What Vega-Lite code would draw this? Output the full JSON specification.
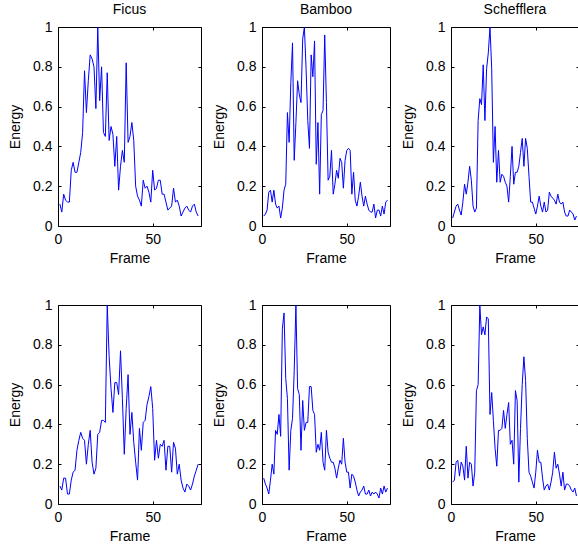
{
"$schema":"https://vega.github.io/schema/vega-lite/v6.json",
"padding":{"left":8,"top":2,"right":0,"bottom":0},
"background":"white",
"datasets":{
"p1":[{"frame":1,"energy":0.11},{"frame":2,"energy":0.07},{"frame":3,"energy":0.16},{"frame":4,"energy":0.13},{"frame":5,"energy":0.12},{"frame":6,"energy":0.12},{"frame":7,"energy":0.28},{"frame":8,"energy":0.32},{"frame":9,"energy":0.27},{"frame":10,"energy":0.27},{"frame":11,"energy":0.32},{"frame":12,"energy":0.37},{"frame":13,"energy":0.47},{"frame":14,"energy":0.78},{"frame":15,"energy":0.57},{"frame":16,"energy":0.73},{"frame":17,"energy":0.86},{"frame":18,"energy":0.84},{"frame":19,"energy":0.8},{"frame":20,"energy":0.59},{"frame":21,"energy":1.0},{"frame":22,"energy":0.63},{"frame":23,"energy":0.8},{"frame":24,"energy":0.47},{"frame":25,"energy":0.45},{"frame":26,"energy":0.77},{"frame":27,"energy":0.43},{"frame":28,"energy":0.5},{"frame":29,"energy":0.46},{"frame":30,"energy":0.3},{"frame":31,"energy":0.45},{"frame":32,"energy":0.18},{"frame":33,"energy":0.3},{"frame":34,"energy":0.38},{"frame":35,"energy":0.32},{"frame":36,"energy":0.82},{"frame":37,"energy":0.42},{"frame":38,"energy":0.45},{"frame":39,"energy":0.52},{"frame":40,"energy":0.43},{"frame":41,"energy":0.2},{"frame":42,"energy":0.15},{"frame":43,"energy":0.13},{"frame":44,"energy":0.1},{"frame":45,"energy":0.23},{"frame":46,"energy":0.19},{"frame":47,"energy":0.2},{"frame":48,"energy":0.17},{"frame":49,"energy":0.12},{"frame":50,"energy":0.28},{"frame":51,"energy":0.18},{"frame":52,"energy":0.19},{"frame":53,"energy":0.23},{"frame":54,"energy":0.23},{"frame":55,"energy":0.16},{"frame":56,"energy":0.16},{"frame":57,"energy":0.12},{"frame":58,"energy":0.08},{"frame":59,"energy":0.09},{"frame":60,"energy":0.1},{"frame":61,"energy":0.19},{"frame":62,"energy":0.12},{"frame":63,"energy":0.13},{"frame":64,"energy":0.1},{"frame":65,"energy":0.05},{"frame":66,"energy":0.07},{"frame":67,"energy":0.09},{"frame":68,"energy":0.1},{"frame":69,"energy":0.08},{"frame":70,"energy":0.07},{"frame":71,"energy":0.1},{"frame":72,"energy":0.11},{"frame":73,"energy":0.07},{"frame":74,"energy":0.05}],
"p2":[{"frame":1,"energy":0.05},{"frame":2,"energy":0.06},{"frame":3,"energy":0.08},{"frame":4,"energy":0.17},{"frame":5,"energy":0.18},{"frame":6,"energy":0.12},{"frame":7,"energy":0.18},{"frame":8,"energy":0.11},{"frame":9,"energy":0.09},{"frame":10,"energy":0.1},{"frame":11,"energy":0.04},{"frame":12,"energy":0.09},{"frame":13,"energy":0.18},{"frame":14,"energy":0.21},{"frame":15,"energy":0.57},{"frame":16,"energy":0.42},{"frame":17,"energy":0.72},{"frame":18,"energy":0.92},{"frame":19,"energy":0.33},{"frame":20,"energy":0.52},{"frame":21,"energy":0.73},{"frame":22,"energy":0.66},{"frame":23,"energy":0.62},{"frame":24,"energy":0.94},{"frame":25,"energy":1.0},{"frame":26,"energy":0.79},{"frame":27,"energy":0.53},{"frame":28,"energy":0.39},{"frame":29,"energy":0.86},{"frame":30,"energy":0.75},{"frame":31,"energy":0.93},{"frame":32,"energy":0.31},{"frame":33,"energy":0.52},{"frame":34,"energy":0.16},{"frame":35,"energy":0.56},{"frame":36,"energy":0.58},{"frame":37,"energy":0.96},{"frame":38,"energy":0.62},{"frame":39,"energy":0.23},{"frame":40,"energy":0.25},{"frame":41,"energy":0.38},{"frame":42,"energy":0.16},{"frame":43,"energy":0.21},{"frame":44,"energy":0.28},{"frame":45,"energy":0.24},{"frame":46,"energy":0.34},{"frame":47,"energy":0.32},{"frame":48,"energy":0.19},{"frame":49,"energy":0.33},{"frame":50,"energy":0.38},{"frame":51,"energy":0.39},{"frame":52,"energy":0.38},{"frame":53,"energy":0.16},{"frame":54,"energy":0.27},{"frame":55,"energy":0.13},{"frame":56,"energy":0.1},{"frame":57,"energy":0.15},{"frame":58,"energy":0.22},{"frame":59,"energy":0.15},{"frame":60,"energy":0.1},{"frame":61,"energy":0.15},{"frame":62,"energy":0.11},{"frame":63,"energy":0.08},{"frame":64,"energy":0.07},{"frame":65,"energy":0.07},{"frame":66,"energy":0.11},{"frame":67,"energy":0.04},{"frame":68,"energy":0.08},{"frame":69,"energy":0.08},{"frame":70,"energy":0.05},{"frame":71,"energy":0.1},{"frame":72,"energy":0.06},{"frame":73,"energy":0.12},{"frame":74,"energy":0.13}],
"p3":[{"frame":1,"energy":0.04},{"frame":2,"energy":0.07},{"frame":3,"energy":0.1},{"frame":4,"energy":0.11},{"frame":5,"energy":0.08},{"frame":6,"energy":0.055},{"frame":7,"energy":0.12},{"frame":8,"energy":0.21},{"frame":9,"energy":0.16},{"frame":10,"energy":0.22},{"frame":11,"energy":0.3},{"frame":12,"energy":0.23},{"frame":13,"energy":0.1},{"frame":14,"energy":0.07},{"frame":15,"energy":0.09},{"frame":16,"energy":0.53},{"frame":17,"energy":0.64},{"frame":18,"energy":0.61},{"frame":19,"energy":0.81},{"frame":20,"energy":0.53},{"frame":21,"energy":0.79},{"frame":22,"energy":0.87},{"frame":23,"energy":1.0},{"frame":24,"energy":0.79},{"frame":25,"energy":0.32},{"frame":26,"energy":0.5},{"frame":27,"energy":0.22},{"frame":28,"energy":0.38},{"frame":29,"energy":0.22},{"frame":30,"energy":0.26},{"frame":31,"energy":0.25},{"frame":32,"energy":0.22},{"frame":33,"energy":0.2},{"frame":34,"energy":0.12},{"frame":35,"energy":0.25},{"frame":36,"energy":0.4},{"frame":37,"energy":0.21},{"frame":38,"energy":0.27},{"frame":39,"energy":0.27},{"frame":40,"energy":0.3},{"frame":41,"energy":0.37},{"frame":42,"energy":0.44},{"frame":43,"energy":0.3},{"frame":44,"energy":0.44},{"frame":45,"energy":0.39},{"frame":46,"energy":0.25},{"frame":47,"energy":0.12},{"frame":48,"energy":0.12},{"frame":49,"energy":0.09},{"frame":50,"energy":0.06},{"frame":51,"energy":0.1},{"frame":52,"energy":0.15},{"frame":53,"energy":0.1},{"frame":54,"energy":0.07},{"frame":55,"energy":0.12},{"frame":56,"energy":0.07},{"frame":57,"energy":0.08},{"frame":58,"energy":0.17},{"frame":59,"energy":0.15},{"frame":60,"energy":0.14},{"frame":61,"energy":0.13},{"frame":62,"energy":0.11},{"frame":63,"energy":0.16},{"frame":64,"energy":0.12},{"frame":65,"energy":0.11},{"frame":66,"energy":0.12},{"frame":67,"energy":0.07},{"frame":68,"energy":0.05},{"frame":69,"energy":0.05},{"frame":70,"energy":0.08},{"frame":71,"energy":0.07},{"frame":72,"energy":0.06},{"frame":73,"energy":0.03},{"frame":74,"energy":0.05}],
"p4":[{"frame":1,"energy":0.09},{"frame":2,"energy":0.07},{"frame":3,"energy":0.13},{"frame":4,"energy":0.13},{"frame":5,"energy":0.05},{"frame":6,"energy":0.05},{"frame":7,"energy":0.12},{"frame":8,"energy":0.16},{"frame":9,"energy":0.17},{"frame":10,"energy":0.27},{"frame":11,"energy":0.32},{"frame":12,"energy":0.36},{"frame":13,"energy":0.33},{"frame":14,"energy":0.32},{"frame":15,"energy":0.2},{"frame":16,"energy":0.3},{"frame":17,"energy":0.37},{"frame":18,"energy":0.21},{"frame":19,"energy":0.15},{"frame":20,"energy":0.18},{"frame":21,"energy":0.35},{"frame":22,"energy":0.36},{"frame":23,"energy":0.42},{"frame":24,"energy":0.42},{"frame":25,"energy":0.41},{"frame":26,"energy":1.0},{"frame":27,"energy":0.74},{"frame":28,"energy":0.58},{"frame":29,"energy":0.46},{"frame":30,"energy":0.61},{"frame":31,"energy":0.61},{"frame":32,"energy":0.55},{"frame":33,"energy":0.77},{"frame":34,"energy":0.53},{"frame":35,"energy":0.25},{"frame":36,"energy":0.48},{"frame":37,"energy":0.65},{"frame":38,"energy":0.35},{"frame":39,"energy":0.46},{"frame":40,"energy":0.31},{"frame":41,"energy":0.21},{"frame":42,"energy":0.12},{"frame":43,"energy":0.38},{"frame":44,"energy":0.27},{"frame":45,"energy":0.41},{"frame":46,"energy":0.42},{"frame":47,"energy":0.5},{"frame":48,"energy":0.54},{"frame":49,"energy":0.59},{"frame":50,"energy":0.48},{"frame":51,"energy":0.22},{"frame":52,"energy":0.32},{"frame":53,"energy":0.23},{"frame":54,"energy":0.3},{"frame":55,"energy":0.29},{"frame":56,"energy":0.32},{"frame":57,"energy":0.17},{"frame":58,"energy":0.29},{"frame":59,"energy":0.29},{"frame":60,"energy":0.16},{"frame":61,"energy":0.31},{"frame":62,"energy":0.28},{"frame":63,"energy":0.15},{"frame":64,"energy":0.2},{"frame":65,"energy":0.12},{"frame":66,"energy":0.08},{"frame":67,"energy":0.06},{"frame":68,"energy":0.1},{"frame":69,"energy":0.09},{"frame":70,"energy":0.07},{"frame":71,"energy":0.1},{"frame":72,"energy":0.14},{"frame":73,"energy":0.17},{"frame":74,"energy":0.2}],
"p5":[{"frame":1,"energy":0.13},{"frame":2,"energy":0.1},{"frame":3,"energy":0.08},{"frame":4,"energy":0.05},{"frame":5,"energy":0.12},{"frame":6,"energy":0.2},{"frame":7,"energy":0.15},{"frame":8,"energy":0.37},{"frame":9,"energy":0.35},{"frame":10,"energy":0.45},{"frame":11,"energy":0.34},{"frame":12,"energy":0.88},{"frame":13,"energy":0.96},{"frame":14,"energy":0.63},{"frame":15,"energy":0.53},{"frame":16,"energy":0.17},{"frame":17,"energy":0.37},{"frame":18,"energy":0.43},{"frame":19,"energy":0.67},{"frame":20,"energy":1.0},{"frame":21,"energy":0.58},{"frame":22,"energy":0.55},{"frame":23,"energy":0.27},{"frame":24,"energy":0.52},{"frame":25,"energy":0.37},{"frame":26,"energy":0.41},{"frame":27,"energy":0.41},{"frame":28,"energy":0.59},{"frame":29,"energy":0.59},{"frame":30,"energy":0.47},{"frame":31,"energy":0.45},{"frame":32,"energy":0.26},{"frame":33,"energy":0.3},{"frame":34,"energy":0.27},{"frame":35,"energy":0.36},{"frame":36,"energy":0.21},{"frame":37,"energy":0.17},{"frame":38,"energy":0.37},{"frame":39,"energy":0.26},{"frame":40,"energy":0.23},{"frame":41,"energy":0.21},{"frame":42,"energy":0.21},{"frame":43,"energy":0.18},{"frame":44,"energy":0.13},{"frame":45,"energy":0.18},{"frame":46,"energy":0.22},{"frame":47,"energy":0.2},{"frame":48,"energy":0.33},{"frame":49,"energy":0.21},{"frame":50,"energy":0.16},{"frame":51,"energy":0.16},{"frame":52,"energy":0.08},{"frame":53,"energy":0.15},{"frame":54,"energy":0.14},{"frame":55,"energy":0.11},{"frame":56,"energy":0.07},{"frame":57,"energy":0.04},{"frame":58,"energy":0.06},{"frame":59,"energy":0.07},{"frame":60,"energy":0.09},{"frame":61,"energy":0.05},{"frame":62,"energy":0.05},{"frame":63,"energy":0.07},{"frame":64,"energy":0.04},{"frame":65,"energy":0.06},{"frame":66,"energy":0.05},{"frame":67,"energy":0.06},{"frame":68,"energy":0.05},{"frame":69,"energy":0.03},{"frame":70,"energy":0.08},{"frame":71,"energy":0.05},{"frame":72,"energy":0.09},{"frame":73,"energy":0.06},{"frame":74,"energy":0.08}],
"p6":[{"frame":1,"energy":0.11},{"frame":2,"energy":0.12},{"frame":3,"energy":0.21},{"frame":4,"energy":0.22},{"frame":5,"energy":0.14},{"frame":6,"energy":0.21},{"frame":7,"energy":0.19},{"frame":8,"energy":0.12},{"frame":9,"energy":0.29},{"frame":10,"energy":0.13},{"frame":11,"energy":0.21},{"frame":12,"energy":0.2},{"frame":13,"energy":0.09},{"frame":14,"energy":0.16},{"frame":15,"energy":0.57},{"frame":16,"energy":0.6},{"frame":17,"energy":1.0},{"frame":18,"energy":0.85},{"frame":19,"energy":0.89},{"frame":20,"energy":0.85},{"frame":21,"energy":0.94},{"frame":22,"energy":0.93},{"frame":23,"energy":0.45},{"frame":24,"energy":0.56},{"frame":25,"energy":0.42},{"frame":26,"energy":0.28},{"frame":27,"energy":0.19},{"frame":28,"energy":0.37},{"frame":29,"energy":0.37},{"frame":30,"energy":0.38},{"frame":31,"energy":0.47},{"frame":32,"energy":0.38},{"frame":33,"energy":0.45},{"frame":34,"energy":0.51},{"frame":35,"energy":0.3},{"frame":36,"energy":0.32},{"frame":37,"energy":0.2},{"frame":38,"energy":0.57},{"frame":39,"energy":0.52},{"frame":40,"energy":0.11},{"frame":41,"energy":0.38},{"frame":42,"energy":0.6},{"frame":43,"energy":0.74},{"frame":44,"energy":0.62},{"frame":45,"energy":0.33},{"frame":46,"energy":0.16},{"frame":47,"energy":0.14},{"frame":48,"energy":0.11},{"frame":49,"energy":0.08},{"frame":50,"energy":0.16},{"frame":51,"energy":0.27},{"frame":52,"energy":0.21},{"frame":53,"energy":0.21},{"frame":54,"energy":0.13},{"frame":55,"energy":0.07},{"frame":56,"energy":0.09},{"frame":57,"energy":0.1},{"frame":58,"energy":0.07},{"frame":59,"energy":0.11},{"frame":60,"energy":0.16},{"frame":61,"energy":0.26},{"frame":62,"energy":0.18},{"frame":63,"energy":0.2},{"frame":64,"energy":0.15},{"frame":65,"energy":0.09},{"frame":66,"energy":0.16},{"frame":67,"energy":0.07},{"frame":68,"energy":0.1},{"frame":69,"energy":0.1},{"frame":70,"energy":0.09},{"frame":71,"energy":0.07},{"frame":72,"energy":0.06},{"frame":73,"energy":0.08},{"frame":74,"energy":0.04}]
},
"columns":3,
"bounds":"flush",
"spacing":{"row":79,"column":61},
"concat":[
{"width":143,"height":199,"title":{"text":"Ficus"},"data":{"name":"p1"},
 "layer":[
  {"mark":{"type":"line","color":"#0000ff","strokeWidth":1},
   "encoding":{"x":{"field":"frame","type":"quantitative","scale":{"domain":[0,75.5],"nice":false,"zero":false},"axis":{"orient":"bottom","values":[0,50],"title":"Frame"}},
   "y":{"field":"energy","type":"quantitative","scale":{"domain":[0,1],"nice":false},"axis":{"orient":"left","values":[0,0.2,0.4,0.6,0.8,1],"format":"~g","title":"Energy"}}}},
  {"mark":{"type":"line","opacity":0},
   "encoding":{"x":{"field":"frame","type":"quantitative","axis":{"orient":"top","values":[0,50],"labels":false,"title":null}},
   "y":{"field":"energy","type":"quantitative","axis":{"orient":"right","values":[0,0.2,0.4,0.6,0.8,1],"labels":false,"title":null}}}}
 ],
 "resolve":{"axis":{"x":"independent","y":"independent"}}},
{"width":128,"height":199,"title":{"text":"Bamboo"},"data":{"name":"p2"},
 "layer":[
  {"mark":{"type":"line","color":"#0000ff","strokeWidth":1},
   "encoding":{"x":{"field":"frame","type":"quantitative","scale":{"domain":[0,75.5],"nice":false,"zero":false},"axis":{"orient":"bottom","values":[0,50],"title":"Frame"}},
   "y":{"field":"energy","type":"quantitative","scale":{"domain":[0,1],"nice":false},"axis":{"orient":"left","values":[0,0.2,0.4,0.6,0.8,1],"format":"~g","title":"Energy"}}}},
  {"mark":{"type":"line","opacity":0},
   "encoding":{"x":{"field":"frame","type":"quantitative","axis":{"orient":"top","values":[0,50],"labels":false,"title":null}},
   "y":{"field":"energy","type":"quantitative","axis":{"orient":"right","values":[0,0.2,0.4,0.6,0.8,1],"labels":false,"title":null}}}}
 ],
 "resolve":{"axis":{"x":"independent","y":"independent"}}},
{"width":128,"height":199,"title":{"text":"Schefflera"},"data":{"name":"p3"},
 "layer":[
  {"mark":{"type":"line","color":"#0000ff","strokeWidth":1},
   "encoding":{"x":{"field":"frame","type":"quantitative","scale":{"domain":[0,75.5],"nice":false,"zero":false},"axis":{"orient":"bottom","values":[0,50],"title":"Frame"}},
   "y":{"field":"energy","type":"quantitative","scale":{"domain":[0,1],"nice":false},"axis":{"orient":"left","values":[0,0.2,0.4,0.6,0.8,1],"format":"~g","title":"Energy"}}}},
  {"mark":{"type":"line","opacity":0},
   "encoding":{"x":{"field":"frame","type":"quantitative","axis":{"orient":"top","values":[0,50],"labels":false,"title":null}},
   "y":{"field":"energy","type":"quantitative","axis":{"orient":"right","values":[0,0.2,0.4,0.6,0.8,1],"labels":false,"title":null}}}}
 ],
 "resolve":{"axis":{"x":"independent","y":"independent"}}},
{"width":143,"height":199,"data":{"name":"p4"},
 "layer":[
  {"mark":{"type":"line","color":"#0000ff","strokeWidth":1},
   "encoding":{"x":{"field":"frame","type":"quantitative","scale":{"domain":[0,75.5],"nice":false,"zero":false},"axis":{"orient":"bottom","values":[0,50],"title":"Frame"}},
   "y":{"field":"energy","type":"quantitative","scale":{"domain":[0,1],"nice":false},"axis":{"orient":"left","values":[0,0.2,0.4,0.6,0.8,1],"format":"~g","title":"Energy"}}}},
  {"mark":{"type":"line","opacity":0},
   "encoding":{"x":{"field":"frame","type":"quantitative","axis":{"orient":"top","values":[0,50],"labels":false,"title":null}},
   "y":{"field":"energy","type":"quantitative","axis":{"orient":"right","values":[0,0.2,0.4,0.6,0.8,1],"labels":false,"title":null}}}}
 ],
 "resolve":{"axis":{"x":"independent","y":"independent"}}},
{"width":128,"height":199,"data":{"name":"p5"},
 "layer":[
  {"mark":{"type":"line","color":"#0000ff","strokeWidth":1},
   "encoding":{"x":{"field":"frame","type":"quantitative","scale":{"domain":[0,75.5],"nice":false,"zero":false},"axis":{"orient":"bottom","values":[0,50],"title":"Frame"}},
   "y":{"field":"energy","type":"quantitative","scale":{"domain":[0,1],"nice":false},"axis":{"orient":"left","values":[0,0.2,0.4,0.6,0.8,1],"format":"~g","title":"Energy"}}}},
  {"mark":{"type":"line","opacity":0},
   "encoding":{"x":{"field":"frame","type":"quantitative","axis":{"orient":"top","values":[0,50],"labels":false,"title":null}},
   "y":{"field":"energy","type":"quantitative","axis":{"orient":"right","values":[0,0.2,0.4,0.6,0.8,1],"labels":false,"title":null}}}}
 ],
 "resolve":{"axis":{"x":"independent","y":"independent"}}},
{"width":128,"height":199,"data":{"name":"p6"},
 "layer":[
  {"mark":{"type":"line","color":"#0000ff","strokeWidth":1},
   "encoding":{"x":{"field":"frame","type":"quantitative","scale":{"domain":[0,75.5],"nice":false,"zero":false},"axis":{"orient":"bottom","values":[0,50],"title":"Frame"}},
   "y":{"field":"energy","type":"quantitative","scale":{"domain":[0,1],"nice":false},"axis":{"orient":"left","values":[0,0.2,0.4,0.6,0.8,1],"format":"~g","title":"Energy"}}}},
  {"mark":{"type":"line","opacity":0},
   "encoding":{"x":{"field":"frame","type":"quantitative","axis":{"orient":"top","values":[0,50],"labels":false,"title":null}},
   "y":{"field":"energy","type":"quantitative","axis":{"orient":"right","values":[0,0.2,0.4,0.6,0.8,1],"labels":false,"title":null}}}}
 ],
 "resolve":{"axis":{"x":"independent","y":"independent"}}}
],
"config":{
 "font":"Liberation Sans",
 "view":{"stroke":"black","strokeWidth":1},
 "axis":{"labelFont":"Liberation Sans","titleFont":"Liberation Sans","labelFontSize":14,"titleFontSize":14,"titleFontWeight":"normal","labelColor":"black","titleColor":"black","tickColor":"black","grid":false,"domain":false,"tickSize":-3,"labelPadding":9,"titlePadding":5,"labelFlush":false,"labelOverlap":false},
 "axisY":{"titlePadding":10},
 "title":{"font":"Liberation Sans","fontSize":14,"fontWeight":"normal","color":"black","anchor":"middle","baseline":"alphabetic","offset":3}
}
}
